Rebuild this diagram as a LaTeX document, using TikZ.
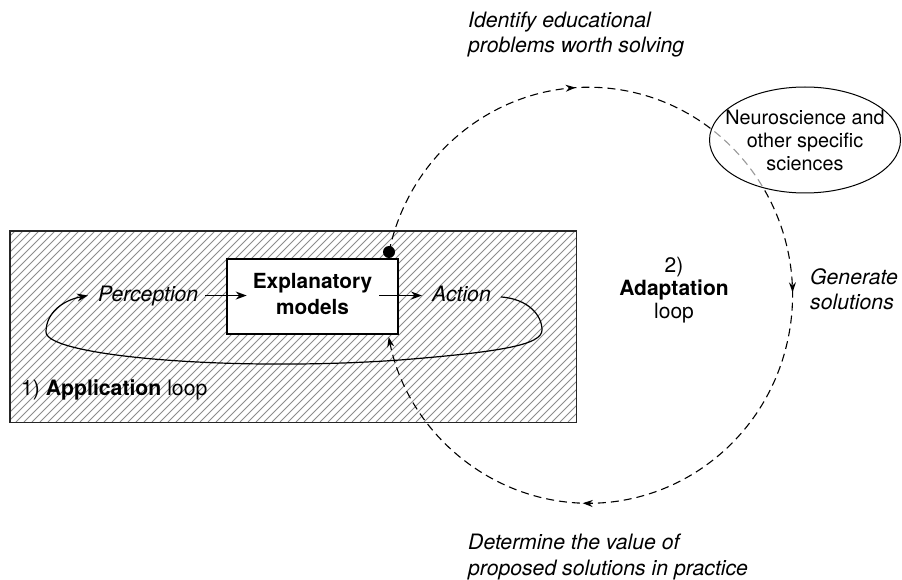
\documentclass[tikz,border=0pt]{standalone}
\usepackage{fontspec}
\setmainfont{TeX Gyre Heros}
\usetikzlibrary{arrows.meta,decorations.markings,shapes.geometric,calc}
\begin{document}
\begin{tikzpicture}[x=1pt,y=1pt,
  txt/.style={inner sep=0pt, font=\fontsize{21.2}{25}\selectfont},
  itxt/.style={inner sep=0pt, font=\fontsize{21.2}{25.5}\selectfont\itshape},
  solidarrow/.style={-{Stealth[length=11pt,width=8pt]}, line width=1.4pt},
  looparrow/.style={-{Stealth[length=11pt,width=8pt]}, line width=1.2pt},
  dashloop/.style={line width=1.1pt, dash pattern=on 8pt off 5pt},
  hatch/.style={draw=black!45, line width=1pt},
]
\useasboundingbox (0,0) rectangle (902,-580);

% application area (hatched)
\node[minimum width=566, minimum height=191, inner sep=0, anchor=north west] (app) at (10,-231) {};
\begin{scope}
  \clip (app.south west) rectangle (app.north east);
  \foreach \i in {-192,-184,...,580} \draw[hatch] (\i,-422) -- ++(191,191);
\end{scope}
\draw[line width=1.3pt, black!85] (app.south west) rectangle (app.north east);

% explanatory models box
\node[draw, line width=2.6pt, fill=white, minimum width=171, minimum height=75, inner sep=0,
      align=center, font=\fontsize{20.8}{26}\selectfont\bfseries] (expl) at (312.5,-296.5)
      {Explanatory\\models\vphantom{p}};

% dot on the box
\node[circle, fill, inner sep=0, minimum size=12] (dot) at (389,-252) {};

% adaptation loop (dashed)
\draw[dashloop, -{Stealth[length=10pt,width=7pt]}, postaction={decorate},
  decoration={markings,
    mark=at position 0.221 with {\arrow{Stealth[length=10pt,width=7pt]}},
    mark=at position 0.497 with {\arrow{Stealth[length=10pt,width=7pt]}},
    mark=at position 0.772 with {\arrow{Stealth[length=10pt,width=7pt]}}}]
  (dot.center) arc[start angle=168, end angle=-168.4, x radius=204, y radius=208];

% science ellipse
\node[ellipse, draw, line width=1pt, minimum width=191, minimum height=106, inner sep=0,
      fill=white, fill opacity=0.6] (neuro) at (805,-140) {};
\node[inner sep=0, align=center, font=\fontsize{19.8}{23}\selectfont] (neurotext) at (neuro.center)
  {Neuroscience and\\other specific\\sciences};

% perception / action
\node[itxt, anchor=base west] (perc) at (98,-301) {Perception};
\node[itxt, anchor=base west] (act) at (432,-301) {Action};
\draw[solidarrow] ([xshift=7pt]perc.east) -- ($(expl.west |- perc.east)+(21,0)$);
\draw[solidarrow] ($(expl.east |- perc.east)+(-20,0)$) -- ($(act.west |- perc.east)+(-10,0)$);

% application loop curve
\draw[looparrow] ($(act.east)+(10,-3.5)$) .. controls (528,-299) and (542,-315) .. (542,-330)
  .. controls (542,-345) and (500,-352) .. (400,-360)
  .. controls (230,-372) and (46,-356) .. (46,-332)
  .. controls (46,-312) and (64,-300) .. ($(perc.west)+(-10,0)$);

% labels
\node[itxt, anchor=north west, align=left] (identify) at (468,-11.5)
  {Identify educational\\problems worth solving};
\node[itxt, anchor=north west, align=left] (determine) at (468,-534)
  {Determine the value of\\proposed solutions in practice};
\node[itxt, anchor=north west, align=left] (generate) at (810,-268)
  {Generate\\solutions};
\node[inner sep=0, anchor=north, align=center, font=\fontsize{21}{23}\selectfont] (adapt) at (674,-257)
  {2)\\\textbf{Adaptation}\\loop};
\node[txt, anchor=base west] (applbl) at (21,-395) {1) \textbf{Application} loop};
\end{tikzpicture}
\end{document}
